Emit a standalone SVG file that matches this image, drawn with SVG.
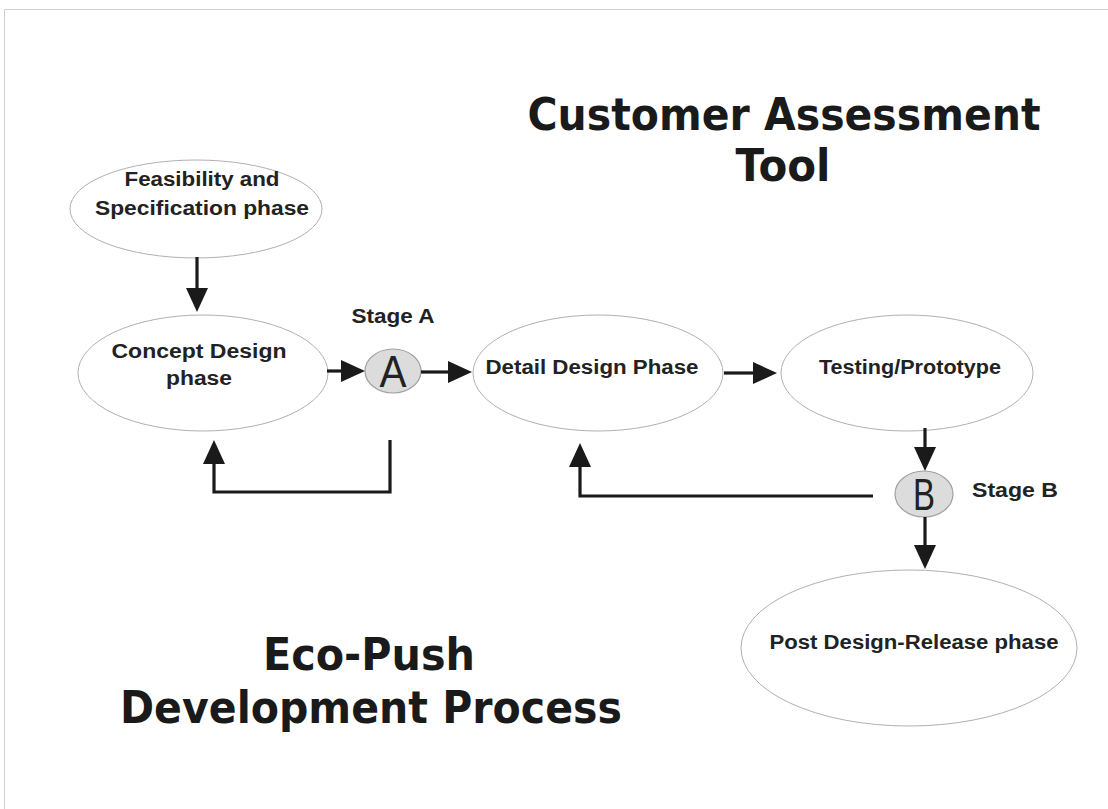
<svg xmlns="http://www.w3.org/2000/svg" width="1108" height="809" viewBox="0 0 1108 809">
<style>
.node ellipse{fill:#fff;stroke:#b0b0b0;stroke-width:1}
.lbl{font-family:"Liberation Sans",Arial,sans-serif;font-weight:bold;font-size:20px;fill:#222;text-anchor:middle}
.title{font-family:"DejaVu Sans",Verdana,sans-serif;font-weight:bold;font-size:44px;fill:#1a1a1a;text-anchor:middle}
.stage ellipse{fill:#dcdcdc;stroke:#a0a0a0;stroke-width:1.2}
.stage .let{font-family:"Liberation Sans",Arial,sans-serif;font-size:44px;fill:#222;text-anchor:middle}
.conn path{fill:none;stroke:#1a1a1a;stroke-width:3.2}
</style>
<defs>
<marker id="ah" markerUnits="userSpaceOnUse" markerWidth="26" markerHeight="24" refX="2" refY="11" orient="auto">
<path d="M0,0 L24,11 L0,22 z" fill="#1a1a1a"/>
</marker>
</defs>
<rect width="1108" height="809" fill="#fff"/>
<path d="M4.5,809 V9.5 H1108" fill="none" stroke="#cfcfcf" stroke-width="1"/>

<g id="title-cat">
<text class="title" x="784" y="130" textLength="513" lengthAdjust="spacingAndGlyphs">Customer Assessment</text>
<text class="title" x="783" y="181" textLength="95" lengthAdjust="spacingAndGlyphs">Tool</text>
</g>
<g id="title-eco">
<text class="title" x="369" y="670" textLength="212" lengthAdjust="spacingAndGlyphs">Eco-Push</text>
<text class="title" x="371" y="723" textLength="502" lengthAdjust="spacingAndGlyphs">Development Process</text>
</g>

<g id="feasibility" class="node">
<ellipse cx="196" cy="209" rx="126" ry="49"/>
<text class="lbl" x="202" y="186" textLength="155" lengthAdjust="spacingAndGlyphs">Feasibility and</text>
<text class="lbl" x="202" y="215" textLength="214" lengthAdjust="spacingAndGlyphs">Specification phase</text>
</g>
<g id="concept" class="node">
<ellipse cx="203" cy="373" rx="125" ry="58"/>
<text class="lbl" x="199" y="358" textLength="175" lengthAdjust="spacingAndGlyphs">Concept Design</text>
<text class="lbl" x="199" y="385" textLength="66" lengthAdjust="spacingAndGlyphs">phase</text>
</g>
<g id="detail" class="node">
<ellipse cx="598" cy="373" rx="125" ry="58"/>
<text class="lbl" x="592" y="374" textLength="213" lengthAdjust="spacingAndGlyphs">Detail Design Phase</text>
</g>
<g id="testing" class="node">
<ellipse cx="907" cy="373" rx="126" ry="58"/>
<text class="lbl" x="910" y="374" textLength="182" lengthAdjust="spacingAndGlyphs">Testing/Prototype</text>
</g>
<g id="post" class="node">
<ellipse cx="909" cy="648" rx="168" ry="78"/>
<text class="lbl" x="914" y="649" textLength="289" lengthAdjust="spacingAndGlyphs">Post Design-Release phase</text>
</g>
<g id="stageA" class="stage">
<ellipse cx="393" cy="371" rx="28" ry="22"/>
<text class="let" x="393" y="387" textLength="27" lengthAdjust="spacingAndGlyphs">A</text>
<text class="lbl" x="393" y="323" textLength="83" lengthAdjust="spacingAndGlyphs">Stage A</text>
</g>
<g id="stageB" class="stage">
<ellipse cx="924" cy="494" rx="29" ry="23"/>
<text class="let" x="924" y="510" textLength="22" lengthAdjust="spacingAndGlyphs">B</text>
<text class="lbl" x="1015" y="497" textLength="86" lengthAdjust="spacingAndGlyphs">Stage B</text>
</g>

<g id="connectors" class="conn">
<path d="M197,257 V290" marker-end="url(#ah)"/>
<path d="M327,371 H343" marker-end="url(#ah)"/>
<path d="M421,372 H450" marker-end="url(#ah)"/>
<path d="M724,373 H755" marker-end="url(#ah)"/>
<path d="M925,428 V449" marker-end="url(#ah)"/>
<path d="M925,517 V547" marker-end="url(#ah)"/>
<path d="M390,440 V492 H214 V462" marker-end="url(#ah)"/>
<path d="M873,496 H580 V465" marker-end="url(#ah)"/>
</g>
</svg>
